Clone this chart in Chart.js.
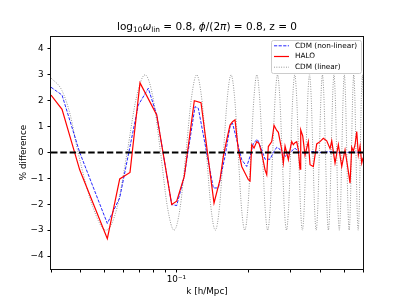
<!DOCTYPE html>
<html lang="en">
  <head>
    <meta charset="UTF-8" />
    <title>HALO vs CDM</title>
    <script src="https://cdn.jsdelivr.net/npm/chart.js"></script>
    <style>
      body { margin: 0; background: #fff; }
    </style>
  </head>
  <body>
    <canvas id="chart" width="404" height="303"></canvas>
    <script>
      // axis ticks
      const xTicks = [0.03, 0.04, 0.05, 0.06, 0.07, 0.08, 0.09, 0.1, 0.2, 0.3, 0.4, 0.5, 0.6];
      const yTicks = [-4, -3, -2, -1, 0, 1, 2, 3, 4];

      // CDM (non-linear)
      const nonlinK = [0.03, 0.03335, 0.03952, 0.05152, 0.05803, 0.06936, 0.07636, 0.08279, 0.0956, 0.1003,
        0.10788, 0.11957, 0.12342, 0.14255, 0.14956, 0.1595, 0.16736, 0.17143, 0.17848, 0.18727,
        0.19648, 0.2028, 0.20933, 0.21753, 0.22693, 0.23424, 0.24577, 0.25369, 0.26211, 0.27056,
        0.28387, 0.2977, 0.31234, 0.32241, 0.34385, 0.3724, 0.39714, 0.43719, 0.4892, 0.53853, 0.6];
      const nonlinDiff = [2.52, 2.22, 0.0, -2.74, -1.75, 1.83, 2.48, 1.45, -2.01, -2.05,
        -0.92, 1.77, 1.71, -1.37, -1.37, -0.15, 1.0, 1.13, 0.49, -0.28,
        -0.54, -0.15, 0.36, 0.51, 0.1, -0.26, -0.26, 0.0, 0.2, 0.12,
        -0.15, 0.0, 0.17, 0.03, -0.03, 0.04, 0.0, 0.03, -0.02, 0.02, 0.0];

      // HALO
      const haloK = [0.03, 0.03335, 0.03952, 0.05152, 0.05803, 0.06406, 0.07051, 0.08279, 0.0956, 0.1003,
        0.10788, 0.11877, 0.12667, 0.14351, 0.15203, 0.15692, 0.16213, 0.16736, 0.17143, 0.17559,
        0.18125, 0.18727, 0.19952, 0.2028, 0.20614, 0.21075, 0.21629, 0.22112, 0.22693, 0.23424,
        0.2381, 0.24179, 0.24982, 0.25541, 0.26211, 0.26617, 0.27501, 0.27927, 0.28387, 0.29302,
        0.2977, 0.30261, 0.3073, 0.31234, 0.31748, 0.32241, 0.32773, 0.32994, 0.33633, 0.34385,
        0.35493, 0.36078, 0.3724, 0.38475, 0.39714, 0.40993, 0.42355, 0.43719, 0.44439, 0.4587,
        0.47349, 0.4892, 0.50495, 0.52123, 0.52981, 0.53853, 0.54688, 0.55589, 0.56504, 0.57379,
        0.58323, 0.59284, 0.6];
      const haloDiff = [2.22, 1.67, -0.67, -3.33, -1.02, -0.77, 2.69, 1.45, -2.01, -1.88,
        -0.92, 2.0, 1.92, -1.95, -1.05, -0.15, 0.49, 1.06, 1.19, 1.26,
        0.1, -0.54, -1.05, -1.1, 0.3, 0.17, 0.42, 0.35, -0.02, -0.67,
        -0.86, 0.23, 0.42, 1.05, 0.85, 0.78, 0.1, -0.41, 0.25, -0.28,
        0.1, 0.42, 0.3, 0.38, 0.42, 0.1, -0.64, 0.87, 0.64, -0.1,
        0.42, -0.47, -0.54, 0.33, 0.42, 0.55, 0.45, 0.15, 0.45, -0.41,
        0.3, -0.54, 0.1, -0.73, -1.18, 0.2, 0.05, 0.3, 0.81, -0.1,
        0.25, -0.41, -0.2];

      // CDM (linear)
      const linK = [0.03, 0.0333, 0.0361, 0.0389, 0.0449, 0.0509, 0.0566, 0.0623, 0.0681, 0.074,
        0.0799, 0.0859, 0.0918, 0.0978, 0.1037, 0.1096, 0.1156, 0.1215, 0.1274, 0.1334,
        0.1393, 0.1453, 0.1512, 0.1571, 0.1631, 0.169, 0.1749, 0.1809, 0.1868, 0.1928,
        0.1987, 0.2046, 0.2106, 0.2165, 0.2224, 0.2284, 0.2343, 0.2403, 0.2462, 0.2521,
        0.2581, 0.264, 0.2699, 0.2759, 0.2818, 0.2878, 0.2937, 0.2996, 0.3056, 0.3115,
        0.3174, 0.3234, 0.3293, 0.3353, 0.3412, 0.3471, 0.3531, 0.359, 0.3649, 0.3709,
        0.3768, 0.3828, 0.3887, 0.3946, 0.4006, 0.4065, 0.4124, 0.4184, 0.4243, 0.4303,
        0.4362, 0.4421, 0.4481, 0.454, 0.4599, 0.4659, 0.4718, 0.4778, 0.4837, 0.4896,
        0.4956, 0.5015, 0.5074, 0.5134, 0.5193, 0.5253, 0.5312, 0.5371, 0.5431, 0.549,
        0.5549, 0.5609, 0.5668, 0.5728, 0.5787, 0.5846, 0.5906, 0.5965, 0.6024];
      const linDiff = [2.88, 2.4, 1.45, 0, -2.12, -3, -2.12, 0, 2.12, 3,
        2.12, 0, -2.12, -3, -2.12, 0, 2.12, 3, 2.12, 0,
        -2.12, -3, -2.12, 0, 2.12, 3, 2.12, 0, -2.12, -3,
        -2.12, 0, 2.12, 3, 2.12, 0, -2.12, -3, -2.12, 0,
        2.12, 3, 2.12, 0, -2.12, -3, -2.12, 0, 2.12, 3,
        2.12, 0, -2.12, -3, -2.12, 0, 2.12, 3, 2.12, 0,
        -2.12, -3, -2.12, 0, 2.12, 3, 2.12, 0, -2.12, -3,
        -2.12, 0, 2.12, 3, 2.12, 0, -2.12, -3, -2.12, 0,
        2.12, 3, 2.12, 0, -2.12, -3, -2.12, 0, 2.12, 3,
        2.12, 0, -2.12, -3, -2.12, 0, 2.12, 3, 2.12];

      const zeroK = [0.03, 0.6];
      const zeroDiff = [0, 0];

      const titleParts = [
        { text: "log", style: "" },
        { text: "10", style: "sub" },
        { text: "ω", style: "italic" },
        { text: "lin", style: "sub" },
        { text: " = 0.8, ", style: "" },
        { text: "ϕ", style: "italic" },
        { text: "/(2", style: "" },
        { text: "π", style: "italic" },
        { text: ") = 0.8, z = 0", style: "" },
      ];

      const FONT = '"DejaVu Sans", sans-serif';
      const pts = (ks, vs) => ks.map((k, i) => ({ x: k, y: vs[i] }));

      const fontFor = (style) =>
        style === "sub" ? "7.4px " + FONT : style === "italic" ? "italic 10.5px " + FONT : "10.5px " + FONT;

      const titlePlugin = {
        id: "mathTitle",
        afterDraw(chart) {
          const ctx = chart.ctx;
          const area = chart.chartArea;
          ctx.save();
          ctx.textBaseline = "alphabetic";
          ctx.fillStyle = "#000";
          let total = 0;
          for (const p of titleParts) {
            ctx.font = fontFor(p.style);
            total += ctx.measureText(p.text).width;
          }
          let x = (area.left + area.right) / 2 - total / 2;
          for (const p of titleParts) {
            ctx.font = fontFor(p.style);
            ctx.fillText(p.text, x, p.style === "sub" ? 32.2 : 29.6);
            x += ctx.measureText(p.text).width;
          }
          ctx.restore();
        },
      };

      const framePlugin = {
        id: "frame",
        afterDraw(chart) {
          const ctx = chart.ctx;
          const a = chart.chartArea;
          ctx.save();
          ctx.strokeStyle = "#111";
          ctx.lineWidth = 1;
          ctx.strokeRect(Math.round(a.left) - 0.5, Math.round(a.top) + 0.5,
            Math.round(a.right - a.left) + 1, Math.round(a.bottom - a.top));
          // legend
          const items = chart.data.datasets.filter((d) => d.label);
          const x0 = a.right - 91.5, y0 = a.top + 4;
          ctx.beginPath();
          ctx.roundRect(x0, y0 + 0.5, 90, 33, 2);
          ctx.fillStyle = "rgba(255,255,255,0.8)";
          ctx.fill();
          ctx.strokeStyle = "#cccccc";
          ctx.stroke();
          ctx.font = "7.3px " + FONT;
          ctx.textBaseline = "middle";
          items.forEach((d, i) => {
            const y = y0 + 5.8 + i * 10.7;
            ctx.beginPath();
            ctx.setLineDash(d.borderDash || []);
            ctx.strokeStyle = d.borderColor;
            ctx.lineWidth = d.borderWidth;
            ctx.moveTo(x0 + 2.5, y);
            ctx.lineTo(x0 + 17.5, y);
            ctx.stroke();
            ctx.setLineDash([]);
            ctx.fillStyle = "#000";
            ctx.fillText(d.label, x0 + 23.5, y);
          });
          ctx.restore();
        },
      };

      Chart.defaults.font.family = FONT;
      Chart.defaults.color = "#000";

      new Chart(document.getElementById("chart"), {
        type: "line",
        data: {
          datasets: [
            {
              label: "CDM (non-linear)",
              data: pts(nonlinK, nonlinDiff),
              borderColor: "rgba(0,0,255,0.85)",
              borderWidth: 1,
              borderDash: [3.2, 1.4],
              pointRadius: 0,
              order: 2,
            },
            {
              label: "HALO",
              data: pts(haloK, haloDiff),
              borderColor: "#ff0000",
              borderWidth: 1.2,
              pointRadius: 0,
              order: 1,
            },
            {
              label: "CDM (linear)",
              data: pts(linK, linDiff),
              borderColor: "rgba(0,0,0,0.45)",
              borderWidth: 1,
              borderDash: [0.9, 1.5],
              cubicInterpolationMode: "monotone",
              pointRadius: 0,
              order: 3,
            },
            {
              label: "",
              data: pts(zeroK, zeroDiff),
              borderColor: "#000",
              borderWidth: 2,
              borderDash: [6.5, 2.8],
              pointRadius: 0,
              order: 0,
            },
          ],
        },
        options: {
          responsive: false,
          animation: false,
          devicePixelRatio: 1,
          layout: { padding: { left: 0, top: 36, right: 41, bottom: 0 } },
          plugins: { legend: { display: false }, tooltip: { enabled: false }, title: { display: false } },
          scales: {
            x: {
              type: "logarithmic",
              min: 0.03,
              max: 0.6,
              afterBuildTicks: (s) => { s.ticks = xTicks.map((v) => ({ value: v })); },
              afterFit: (s) => { s.height = 34; },
              border: { display: false },
              grid: { drawOnChartArea: false, drawTicks: true, tickLength: 3.5, color: "#000" },
              ticks: {
                autoSkip: false,
                maxRotation: 0,
                padding: 2,
                font: { size: 8.8 },
                callback: (v) => (Math.abs(v - 0.1) < 1e-9 ? "10\u207B\u00B9" : ""),
              },
              title: { display: true, text: "k [h/Mpc]", font: { size: 8.8 }, padding: { bottom: 6, top: 0 } },
            },
            y: {
              type: "linear",
              min: -4.5,
              max: 4.5,
              afterBuildTicks: (s) => { s.ticks = yTicks.map((v) => ({ value: v })); },
              afterFit: (s) => { s.width = 51; },
              border: { display: false },
              grid: { drawOnChartArea: false, drawTicks: true, tickLength: 3.5, color: "#000" },
              ticks: {
                padding: 4,
                font: { size: 8.8 },
                callback: (v) => (v < 0 ? "\u2212" + Math.abs(v) : String(v)),
              },
              title: { display: true, text: "% difference", font: { size: 8.8 }, padding: { top: 18, bottom: 0 } },
            },
          },
        },
        plugins: [titlePlugin, framePlugin],
      });
    </script>
  </body>
</html>
